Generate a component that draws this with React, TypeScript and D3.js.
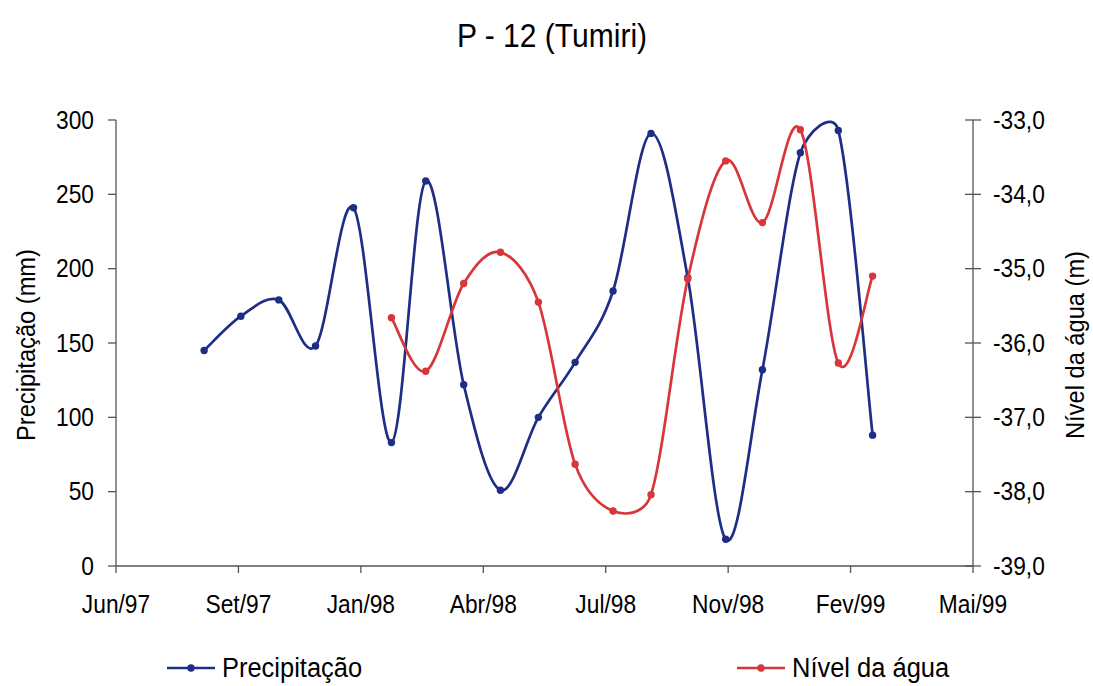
import React from "react";
import * as d3 from "d3";

// Monthly precipitation (mm), end-of-month dates
const precipDates = [
  "1997-08-31", "1997-09-30", "1997-10-31", "1997-11-30", "1997-12-31",
  "1998-01-31", "1998-02-28", "1998-03-31", "1998-04-30", "1998-05-31",
  "1998-06-30", "1998-07-31", "1998-08-31", "1998-09-30", "1998-10-31",
  "1998-11-30", "1998-12-31", "1999-01-31", "1999-02-28",
];
const precipValues = [
  145, 168, 179, 148, 241, 83, 259, 122, 51, 100,
  137, 185, 291, 194, 18, 132, 278, 293, 88,
];

// Water level (m)
const levelDates = [
  "1998-01-31", "1998-02-28", "1998-03-31", "1998-04-30", "1998-05-31",
  "1998-06-30", "1998-07-31", "1998-08-31", "1998-09-30", "1998-10-31",
  "1998-11-30", "1998-12-31", "1999-01-31", "1999-02-28",
];
const levelValues = [
  -35.66, -36.38, -35.2, -34.78, -35.45, -37.63, -38.26,
  -38.04, -35.14, -33.55, -34.38, -33.13, -36.27, -35.1,
];

const leftTicks = [0, 50, 100, 150, 200, 250, 300];
const rightTicks = [-39, -38, -37, -36, -35, -34, -33];
const monthNames = ["Jan", "Fev", "Mar", "Abr", "Mai", "Jun", "Jul", "Ago", "Set", "Out", "Nov", "Dez"];

const title = "P - 12 (Tumiri)";
const leftTitle = "Precipitação (mm)";
const rightTitle = "Nível da água (m)";
const precipName = "Precipitação";
const levelName = "Nível da água";

const W = 1093;
const H = 686;
const plot = { left: 116, right: 973, top: 120, bottom: 566 };
const BLUE = "#1e2d86";
const RED = "#d7363a";
const AXIS = "#555";
const FONT = "'Liberation Sans', Arial, sans-serif";
const SQUEEZE = 0.91; // slightly narrow lettering

const parse = d3.utcParse("%Y-%m-%d");
const axisStart = parse("1997-06-20")!;
const DAY = 86400000;
// Date axis with a major unit of 100 days
const xTicks = d3.range(0, 8).map((i) => new Date(axisStart.getTime() + i * 100 * DAY));

const x = d3.scaleUtc().domain([xTicks[0], xTicks[xTicks.length - 1]]).range([plot.left, plot.right]);
const yL = d3.scaleLinear().domain([0, 300]).range([plot.bottom, plot.top]);
const yR = d3.scaleLinear().domain([-39, -33]).range([plot.bottom, plot.top]);

const fmtTick = (d: Date) => `${monthNames[d.getUTCMonth()]}/${String(d.getUTCFullYear()).slice(2)}`;
const fmtRight = (v: number) => v.toFixed(1).replace(".", ",");

type Pt = [number, number];
const precipPts: Pt[] = precipDates.map((d, i) => [x(parse(d)!), yL(precipValues[i])]);
const levelPts: Pt[] = levelDates.map((d, i) => [x(parse(d)!), yR(levelValues[i])]);

// Spreadsheet-style smoothed line: cubic Bezier segments whose control arms
// are (p2 - p0) / 6, clamped to at most half of the segment length.
function smooth(pts: Pt[]): string {
  const p = d3.path();
  const dist = (a: Pt, b: Pt) => Math.hypot(b[0] - a[0], b[1] - a[1]);
  p.moveTo(pts[0][0], pts[0][1]);
  for (let i = 0; i < pts.length - 1; i++) {
    const p0 = pts[Math.max(0, i - 1)];
    const p1 = pts[i];
    const p2 = pts[i + 1];
    const p3 = pts[Math.min(pts.length - 1, i + 2)];
    const d12 = dist(p1, p2);
    const d02 = dist(p0, p2);
    const d13 = dist(p1, p3);
    const f0 = d02 / 6 < d12 / 2 ? 1 / 6 : d12 / d02 / 2;
    const f3 = d13 / 6 < d12 / 2 ? 1 / 6 : d12 / d13 / 2;
    const c1: Pt = [p1[0] + (p2[0] - p0[0]) * f0, p1[1] + (p2[1] - p0[1]) * f0];
    const c2: Pt = [p2[0] - (p3[0] - p1[0]) * f3, p2[1] - (p3[1] - p1[1]) * f3];
    p.bezierCurveTo(c1[0], c1[1], c2[0], c2[1], p2[0], p2[1]);
  }
  return p.toString();
}

type TProps = {
  x: number;
  y: number;
  size: number;
  anchor?: "start" | "middle" | "end";
  dy?: string;
  rotate?: number;
  children: React.ReactNode;
};

function Label({ x, y, size, anchor = "start", dy, rotate = 0, children }: TProps) {
  const t = rotate
    ? `translate(${x},${y}) scale(1,${SQUEEZE}) rotate(${rotate})`
    : `translate(${x},${y}) scale(${SQUEEZE},1)`;
  return (
    <text transform={t} textAnchor={anchor} dy={dy} fontSize={size} fill="#000">
      {children}
    </text>
  );
}

export default function App() {
  return (
    <svg width={W} height={H} style={{ position: "absolute", left: 0, top: 0, background: "#fff" }} fontFamily={FONT}>
      <rect width={W} height={H} fill="#fff" />
      <Label x={552} y={47} size={33} anchor="middle">{title}</Label>

      {/* axes */}
      <g stroke={AXIS} strokeWidth={1.3} fill="none">
        <line x1={plot.left} x2={plot.left} y1={plot.top} y2={plot.bottom} />
        <line x1={plot.right} x2={plot.right} y1={plot.top} y2={plot.bottom} />
        <line x1={plot.left} x2={plot.right} y1={plot.bottom} y2={plot.bottom} />
        {leftTicks.map((t) => (
          <line key={`l${t}`} x1={plot.left - 8} x2={plot.left} y1={yL(t)} y2={yL(t)} />
        ))}
        {rightTicks.map((t) => (
          <line key={`r${t}`} x1={plot.right - 8} x2={plot.right + 8} y1={yR(t)} y2={yR(t)} />
        ))}
        {xTicks.map((t, i) => (
          <line key={`x${i}`} x1={x(t)} x2={x(t)} y1={plot.bottom} y2={plot.bottom + 7} />
        ))}
      </g>

      {leftTicks.map((t) => (
        <Label key={`lt${t}`} x={plot.left - 22} y={yL(t)} size={25} dy="0.35em" anchor="end">{t}</Label>
      ))}
      {rightTicks.map((t) => (
        <Label key={`rt${t}`} x={plot.right + 20} y={yR(t)} size={25} dy="0.35em">{fmtRight(t)}</Label>
      ))}
      {xTicks.map((t, i) => (
        <Label key={`xt${i}`} x={x(t)} y={613} size={25} anchor="middle">{fmtTick(t)}</Label>
      ))}

      <Label x={35} y={345} size={26} anchor="middle" rotate={-90}>{leftTitle}</Label>
      <Label x={1084} y={345} size={26} anchor="middle" rotate={-90}>{rightTitle}</Label>

      {/* series */}
      <path d={smooth(precipPts)} fill="none" stroke={BLUE} strokeWidth={2.7} />
      {precipPts.map((p, i) => (
        <circle key={`pp${i}`} cx={p[0]} cy={p[1]} r={3.7} fill={BLUE} />
      ))}
      <path d={smooth(levelPts)} fill="none" stroke={RED} strokeWidth={2.7} />
      {levelPts.map((p, i) => (
        <circle key={`lp${i}`} cx={p[0]} cy={p[1]} r={3.7} fill={RED} />
      ))}

      {/* legend */}
      <g>
        <line x1={167} x2={215} y1={668} y2={668} stroke={BLUE} strokeWidth={2.7} />
        <circle cx={191} cy={668} r={3.7} fill={BLUE} />
        <Label x={222} y={677} size={28}>{precipName}</Label>
        <line x1={737} x2={785} y1={668} y2={668} stroke={RED} strokeWidth={2.7} />
        <circle cx={761} cy={668} r={3.7} fill={RED} />
        <Label x={792} y={677} size={28}>{levelName}</Label>
      </g>
    </svg>
  );
}
